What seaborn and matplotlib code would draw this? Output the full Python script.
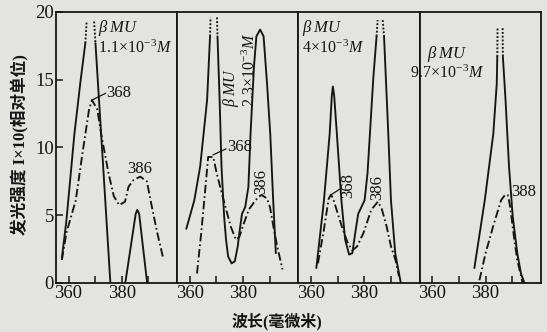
import numpy as np
import pandas as pd
import matplotlib.pyplot as plt
import seaborn as sns

# ---------------- DATA ---------------- #
# wavelength (nm) / intensity I x 10 for the four beta-MU concentrations

# panel 1 : 1.1e-3 M
p1_solid_a_x = [357.5, 359.2, 362.2, 364.5, 366.3]
p1_solid_a_y = [1.85, 4.6, 11.0, 14.9, 17.7]
p1_solid_b_x = [370.1, 372.9, 375.7]
p1_solid_b_y = [17.7, 8.9, 0.0]
p1_solid_c_x = [381.3, 385.2, 385.8, 386.5, 389.5]
p1_solid_c_y = [0.0, 5.1, 5.4, 5.1, 0.0]
p1_top_x = [[366.3, 366.8], [369.6, 370.1]]
p1_top_y = [[17.7, 19.3], [19.3, 17.7]]
p1_dash_x = [357.5, 359.2, 362.7, 365.4, 367.7, 368.8, 370.8, 372.2, 375.0, 377.0,
             379.0, 381.2, 382.5, 384.4, 386.9, 389.4, 391.3, 393.3, 395.5]
p1_dash_y = [1.7, 3.7, 6.1, 9.8, 12.8, 13.5, 12.8, 11.05, 8.1, 6.4,
             5.75, 6.0, 7.1, 7.6, 7.85, 7.5, 5.6, 3.7, 1.85]

# panel 2 : 2.3e-3 M
p2_solid_a_x = [358.7, 361.7, 363.9, 366.5, 367.6]
p2_solid_a_y = [4.0, 6.1, 8.6, 13.5, 18.2]
p2_solid_b_x = [370.4, 371.2, 371.9, 372.9, 373.6, 374.4, 375.7, 376.9, 378.0, 378.6,
                379.6, 380.8, 382.0, 382.8, 384.1, 385.0, 386.4, 387.7, 389.0, 390.2,
                391.3, 392.3]
p2_solid_b_y = [18.2, 13.5, 8.6, 4.9, 3.2, 1.95, 1.45, 1.6, 2.7, 3.7,
                5.1, 5.6, 7.1, 11.0, 16.0, 18.2, 18.7, 18.2, 14.7, 11.0,
                6.1, 2.2]
p2_top_x = [[367.6, 367.8], [370.2, 370.4]]
p2_top_y = [[18.2, 19.6], [19.6, 18.2]]
p2_dash_x = [362.7, 364.3, 365.9, 366.9, 368.8, 370.1, 371.4, 373.4, 375.4, 377.3,
             378.6, 380.3, 382.1, 383.9, 385.5, 386.9, 388.9, 390.1, 391.4, 392.8, 394.8]
p2_dash_y = [0.7, 3.7, 7.1, 9.3, 9.3, 8.1, 7.1, 5.6, 4.15, 3.2,
             3.4, 4.4, 5.4, 5.9, 6.3, 6.5, 6.25, 5.6, 4.15, 2.7, 1.0]

# panel 3 : 4e-3 M
p3_solid_a_x = [362.0, 364.8, 367.0, 367.8, 368.2, 368.7, 369.7, 371.4, 372.8, 374.3,
                375.5, 376.6, 377.7, 378.9, 380.1, 381.2, 382.1, 383.4, 384.6]
p3_solid_a_y = [1.1, 6.0, 11.0, 13.8, 14.5, 13.8, 11.0, 6.1, 3.2, 2.1,
                2.2, 3.7, 5.1, 5.6, 6.1, 8.1, 11.0, 15.2, 18.2]
p3_solid_b_x = [387.4, 389.0, 390.0, 391.6, 393.7]
p3_solid_b_y = [18.2, 11.0, 6.1, 2.2, 0.0]
p3_top_x = [[384.6, 385.0], [386.9, 387.4]]
p3_top_y = [[18.2, 19.4], [19.4, 18.2]]
p3_dash_x = [362.6, 364.8, 366.6, 367.4, 368.2, 369.6, 371.6, 373.6, 375.5, 377.3,
             379.7, 382.6, 385.1, 386.5, 388.4, 390.0, 391.7, 393.0]
p3_dash_y = [1.45, 3.9, 6.2, 6.5, 6.3, 5.4, 4.15, 3.05, 2.4, 2.7,
             3.7, 5.4, 6.0, 5.5, 4.15, 2.7, 1.7, 0.5]

# panel 4 : 9.7e-3 M
p4_solid_a_x = [375.8, 379.7, 382.9, 384.2, 384.4]
p4_solid_a_y = [1.1, 6.1, 11.0, 14.7, 16.7]
p4_solid_b_x = [386.5, 387.5, 388.8, 390.2, 391.9, 393.3, 394.6]
p4_solid_b_y = [16.7, 13.5, 8.6, 4.9, 2.2, 0.7, 0.0]
p4_top_x = [[384.4, 384.5], [386.4, 386.5]]
p4_top_y = [[16.7, 18.8], [18.8, 16.7]]
p4_dash_x = [377.7, 380.0, 382.8, 385.8, 387.3, 388.3, 389.0, 389.7, 390.8, 391.9, 393.9]
p4_dash_y = [0.2, 2.2, 4.15, 6.1, 6.5, 6.5, 5.9, 4.9, 3.2, 1.7, 0.0]

conc_labels = [r"$1.1\!\times\!10^{-3}M$", r"$2.3\!\times\!10^{-3}M$",
               r"$4\!\times\!10^{-3}M$", r"$9.7\!\times\!10^{-3}M$"]
x_ticks = [360, 370, 380, 390]
x_ticklabels = ["360", "", "380", ""]
y_ticks = [0, 5, 10, 15, 20]

# ---------------- STYLE ---------------- #
sns.set_style("ticks")
paper = "#e3e3df"
ink = "#151515"
plt.rcParams["font.family"] = ["Liberation Serif", "Noto Sans CJK SC"]
plt.rcParams["mathtext.fontset"] = "custom"
plt.rcParams["mathtext.rm"] = "Liberation Serif"
plt.rcParams["mathtext.it"] = "Liberation Serif:italic"
plt.rcParams["axes.edgecolor"] = ink
plt.rcParams["text.color"] = ink

dashdot = (0, (4.5, 1.6, 0.9, 1.6))
dotted = (0, (1.0, 1.0))
lw = 1.35

fig, axes = plt.subplots(1, 4, figsize=(5.47, 3.32), dpi=100, sharey=True)
fig.patch.set_facecolor(paper)
fig.subplots_adjust(left=0.1024, right=0.989, bottom=0.1476, top=0.9639, wspace=0)

panels = [
    ([(p1_solid_a_x, p1_solid_a_y), (p1_solid_b_x, p1_solid_b_y), (p1_solid_c_x, p1_solid_c_y)],
     (p1_top_x, p1_top_y), (p1_dash_x, p1_dash_y)),
    ([(p2_solid_a_x, p2_solid_a_y), (p2_solid_b_x, p2_solid_b_y)],
     (p2_top_x, p2_top_y), (p2_dash_x, p2_dash_y)),
    ([(p3_solid_a_x, p3_solid_a_y), (p3_solid_b_x, p3_solid_b_y)],
     (p3_top_x, p3_top_y), (p3_dash_x, p3_dash_y)),
    ([(p4_solid_a_x, p4_solid_a_y), (p4_solid_b_x, p4_solid_b_y)],
     (p4_top_x, p4_top_y), (p4_dash_x, p4_dash_y)),
]

for ax, (solids, tops, dash) in zip(axes, panels):
    ax.set_facecolor(paper)
    for sx, sy in solids:
        sns.lineplot(x=sx, y=sy, ax=ax, color=ink, lw=lw, sort=False, estimator=None)
    for tx, ty in zip(*tops):
        sns.lineplot(x=tx, y=ty, ax=ax, color=ink, lw=lw, linestyle=dotted,
                     sort=False, estimator=None)
    sns.lineplot(x=dash[0], y=dash[1], ax=ax, color=ink, lw=lw, linestyle=dashdot,
                 sort=False, estimator=None)
    ax.set_xlim(355.3, 400.8)
    ax.set_ylim(0, 20)
    ax.set_xticks(x_ticks, x_ticklabels)
    ax.tick_params(axis="x", direction="in", length=5, width=1.1, pad=1.5,
                   labelsize=13.5, colors=ink)
    for sp in ax.spines.values():
        sp.set_linewidth(1.3)
        sp.set_visible(True)
    ax.set_xlabel("")
    ax.set_ylabel("")

axes[0].set_yticks(y_ticks, [str(v) for v in y_ticks])
axes[0].tick_params(axis="y", direction="in", length=5, width=1.1, pad=1.5,
                    labelsize=13.5, colors=ink)
for ax in axes[1:]:
    ax.tick_params(axis="y", left=False, labelleft=False)

# concentration captions
beta_mu = r"$\beta\;MU$"
axes[0].text(371.0, 18.8, beta_mu, fontsize=12, va="center", ha="left")
axes[0].text(371.0, 17.35, conc_labels[0], fontsize=11.5, va="center", ha="left")
axes[1].text(378.8, 13.0, beta_mu + "\n" + conc_labels[1], fontsize=11.5,
             rotation=90, ha="center", va="bottom", multialignment="left", linespacing=1.0)
axes[2].text(356.5, 18.8, beta_mu, fontsize=12, va="center", ha="left")
axes[2].text(356.5, 17.3, conc_labels[2], fontsize=11.5, va="center", ha="left")
axes[3].text(365.6, 16.9, beta_mu, fontsize=12, va="center", ha="center")
axes[3].text(365.6, 15.5, conc_labels[3], fontsize=11.5, va="center", ha="center")

# peak labels
axes[0].plot([368.8, 373.9], [13.5, 14.0], color=ink, lw=0.9)
axes[0].text(374.2, 14.0, "368", fontsize=12, va="center", ha="left")
axes[0].text(386.8, 8.4, "386", fontsize=12, va="center", ha="center")
axes[1].plot([368.7, 373.6], [9.45, 9.9], color=ink, lw=0.9)
axes[1].text(373.9, 10.0, "368", fontsize=12, va="center", ha="left")
axes[1].text(386.8, 6.6, "386", fontsize=12, rotation=90, va="bottom", ha="center")
axes[2].plot([367.4, 371.4], [6.5, 7.0], color=ink, lw=0.9)
axes[2].text(373.8, 6.3, "368", fontsize=12, rotation=90, va="bottom", ha="center")
axes[2].text(385.0, 6.1, "386", fontsize=12, rotation=90, va="bottom", ha="center")
axes[3].text(389.8, 6.7, "388", fontsize=12, va="center", ha="left", clip_on=False)

fig.text(0.037, 0.566, "发光强度 I×10(相对单位)", rotation=90, fontsize=12,
         fontweight="bold", ha="center", va="center")
fig.text(0.506, 0.03, "波长(毫微米)", fontsize=11.5, fontweight="bold",
         ha="center", va="center")

plt.savefig("out.png", dpi=100, facecolor=paper)
